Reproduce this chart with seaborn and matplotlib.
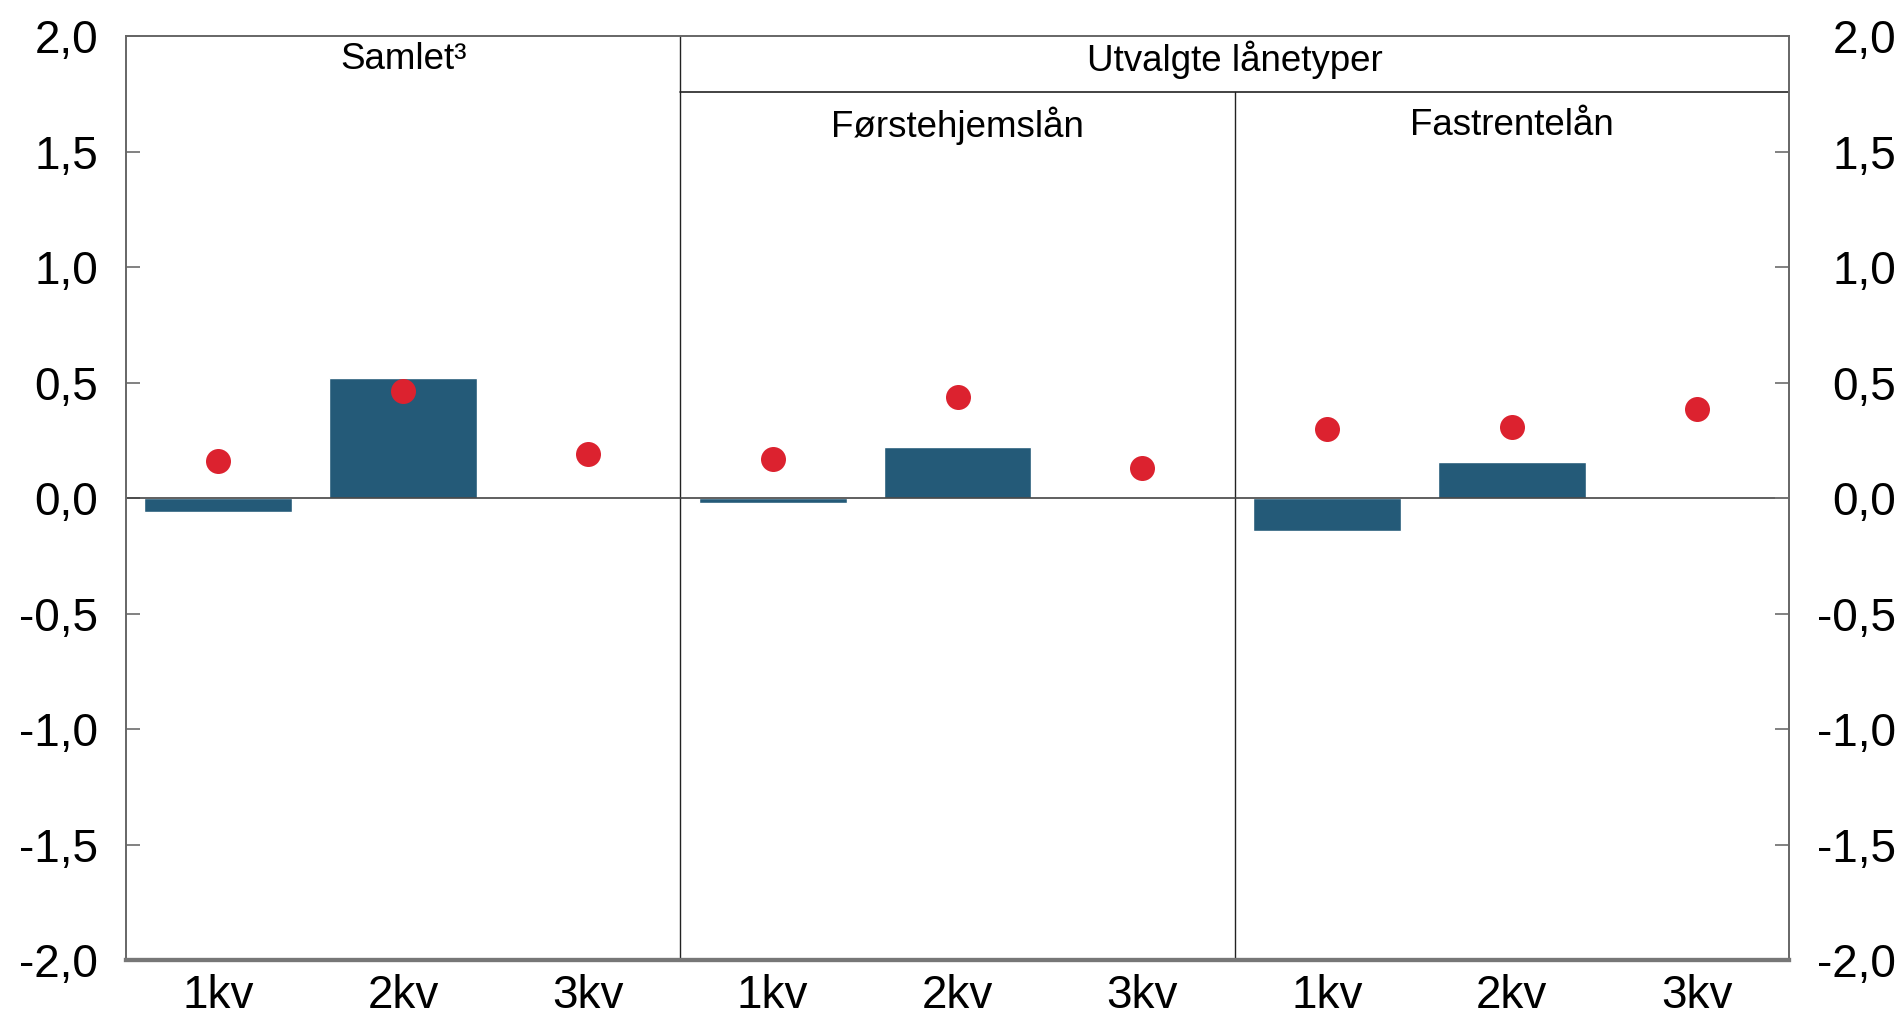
import numpy as np
import pandas as pd
import matplotlib
matplotlib.use("Agg")
import matplotlib.pyplot as plt
import seaborn as sns
from matplotlib.ticker import FixedLocator, FuncFormatter

# ---- data ----
groups = ["Samlet³", "Førstehjemslån", "Fastrentelån"]
quarters = ["1kv", "2kv", "3kv"]
bar_samlet = [-0.06, 0.52, np.nan]
bar_forste = [-0.022, 0.22, np.nan]
bar_fast = [-0.14, 0.156, np.nan]
dot_samlet = [0.16, 0.466, 0.19]
dot_forste = [0.17, 0.44, 0.13]
dot_fast = [0.30, 0.31, 0.387]
header_top = "Utvalgte lånetyper"
yticks = [-2.0, -1.5, -1.0, -0.5, 0.0, 0.5, 1.0, 1.5, 2.0]

bars = bar_samlet + bar_forste + bar_fast
dots = dot_samlet + dot_forste + dot_fast
keys = [f"{g}|{q}" for g in groups for q in quarters]
df = pd.DataFrame({"key": keys, "bar": bars, "dot": dots,
                   "quarter": quarters * 3})

BAR_COLOR = "#245a78"
DOT_COLOR = "#dc222f"
LINE = "#222222"
TICK = "#777777"

sns.set_theme(style="white")
plt.rcParams["font.family"] = ["Liberation Sans", "DejaVu Sans"]
plt.rcParams["text.color"] = "black"

fig = plt.figure(figsize=(19.03, 10.15), dpi=100)
ax = fig.add_subplot(111)
fig.subplots_adjust(left=126 / 1903, right=1789 / 1903,
                    top=1 - 36.4 / 1015, bottom=1 - 960 / 1015)

sns.barplot(data=df, x="key", y="bar", order=keys, color=BAR_COLOR,
            width=0.8, errorbar=None, saturation=1, ax=ax, zorder=2)
sns.stripplot(data=df, x="key", y="dot", order=keys, color=DOT_COLOR,
              jitter=False, size=18, linewidth=0, ax=ax, zorder=3)

ax.set_xlim(-0.5, len(keys) - 0.5)
ax.set_ylim(-2.0, 2.0)
ax.set_xlabel("")
ax.set_ylabel("")

fmt = FuncFormatter(lambda v, p: f"{v:.1f}".replace(".", ","))
ax.yaxis.set_major_locator(FixedLocator(yticks))
ax.yaxis.set_major_formatter(fmt)
ax.set_xticks(range(len(keys)))
ax.set_xticklabels(df["quarter"])

ax.tick_params(axis="y", direction="in", length=10, width=1.3,
               color=TICK, labelsize=33, pad=20, left=True, labelcolor="black")
ax.tick_params(axis="x", length=0, labelsize=33, pad=10, labelcolor="black")

ax2 = ax.twinx()
ax2.set_ylim(-2.0, 2.0)
ax2.yaxis.set_major_locator(FixedLocator(yticks))
ax2.yaxis.set_major_formatter(fmt)
ax2.tick_params(axis="y", direction="in", length=10, width=1.3,
                color=TICK, labelsize=33, pad=77, right=True, labelcolor="black")
for lbl in ax2.get_yticklabels():
    lbl.set_horizontalalignment("right")
ax2.grid(False)
ax.grid(False)

for a in (ax, ax2):
    for s in a.spines.values():
        s.set_color("#666666")
        s.set_linewidth(1.2)
    a.spines["bottom"].set_linewidth(3)
    a.spines["bottom"].set_color("#777777")

# zero line
ax.axhline(0, color="#444444", lw=1.2, zorder=2.5)

# panel separators and headers
y_split = 1.758
ax.plot([2.5, 2.5], [-2.0, 2.0], color=LINE, lw=1.0, zorder=1)
ax.plot([5.5, 5.5], [-2.0, y_split], color=LINE, lw=1.0, zorder=1)
ax.plot([2.5, 8.5], [y_split, y_split], color=LINE, lw=1.2, zorder=1)

hsize = 26.5
ax.text(1, 1.9, groups[0], ha="center", va="center", fontsize=hsize, color="black")
ax.text(5.5, 1.9, header_top, ha="center", va="center", fontsize=hsize, color="black")
ax.text(4, 1.612, groups[1], ha="center", va="center", fontsize=hsize, color="black")
ax.text(7, 1.612, groups[2], ha="center", va="center", fontsize=hsize, color="black")

fig.savefig("out.png", dpi=100)
